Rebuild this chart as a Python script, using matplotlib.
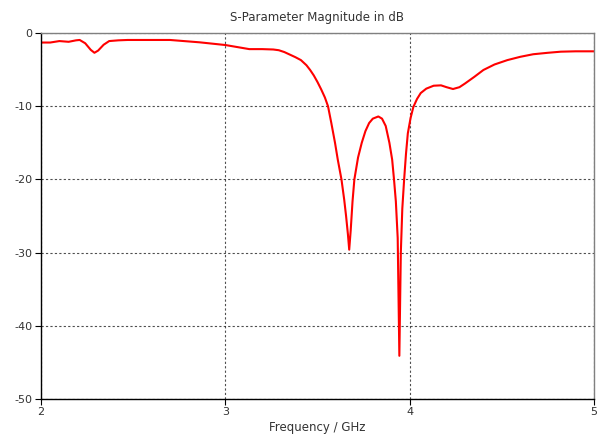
import matplotlib
matplotlib.use("Agg")
import matplotlib.pyplot as plt

# S11 magnitude over frequency
freq_ghz = [2.00, 2.05, 2.10, 2.15, 2.19, 2.21, 2.24, 2.27, 2.29, 2.31,
            2.34, 2.37, 2.42, 2.47, 2.60, 2.70, 2.86, 3.00, 3.13, 3.20,
            3.26, 3.29, 3.32, 3.35, 3.38, 3.41, 3.44, 3.46, 3.48, 3.50,
            3.52, 3.54, 3.557, 3.575, 3.595, 3.61, 3.63, 3.645, 3.655, 3.665,
            3.672, 3.68, 3.69, 3.70, 3.72, 3.74, 3.76, 3.78, 3.80, 3.83,
            3.85, 3.87, 3.89, 3.905, 3.915, 3.925, 3.935, 3.944, 3.952, 3.96,
            3.97, 3.98, 3.99, 4.005, 4.02, 4.04, 4.06, 4.09, 4.13, 4.17,
            4.20, 4.235, 4.27, 4.30, 4.35, 4.40, 4.46, 4.53, 4.60, 4.67,
            4.75, 4.82, 4.90, 5.00]
s11_db = [-1.3, -1.3, -1.1, -1.2, -1.0, -0.95, -1.4, -2.3, -2.7, -2.4,
          -1.6, -1.1, -1.0, -0.95, -0.95, -0.95, -1.27, -1.64, -2.2, -2.2,
          -2.25, -2.35, -2.6, -2.95, -3.3, -3.7, -4.4, -5.05, -5.8, -6.7,
          -7.7, -8.8, -10.0, -12.3, -15.0, -17.3, -20.0, -22.8, -25.0, -27.5,
          -29.6, -27.0, -23.0, -20.0, -17.0, -15.0, -13.4, -12.3, -11.7, -11.4,
          -11.7, -12.7, -15.0, -17.3, -20.0, -23.0, -28.0, -44.1, -30.0, -24.0,
          -20.0, -16.5, -13.7, -11.6, -10.1, -9.0, -8.2, -7.6, -7.2, -7.15,
          -7.4, -7.65, -7.4, -6.9, -6.0, -5.05, -4.3, -3.7, -3.25, -2.9,
          -2.7, -2.55, -2.5, -2.5]

x_ticks = [2, 3, 4, 5]
y_ticks = [0, -10, -20, -30, -40, -50]

plt.rcParams['font.family'] = ['DejaVu Sans']
plt.rcParams['font.size'] = 8

fig = plt.figure(figsize=(5.99, 4.42), dpi=100)
ax = fig.add_axes([0.0684, 0.0973, 0.9233, 0.828])

ax.plot(freq_ghz, s11_db, color='red', linewidth=1.5, solid_joinstyle='round')

ax.set_xlim(2, 5)
ax.set_ylim(-50, 0)
ax.set_xticks(x_ticks)
ax.set_yticks(y_ticks)
ax.set_xticklabels([str(v) for v in x_ticks])
ax.set_yticklabels([str(v) for v in y_ticks])

ax.grid(True, color='#222222', linestyle=(0, (2, 2)), linewidth=0.8, alpha=0.8)
ax.tick_params(direction='out', length=4, width=0.8, colors='black',
               labelcolor='#333333', pad=2)

for side in ['left', 'bottom']:
    ax.spines[side].set_color('black')
    ax.spines[side].set_linewidth(1)
for side in ['top', 'right']:
    ax.spines[side].set_color('#808080')
    ax.spines[side].set_linewidth(1)

ax.set_title('S-Parameter Magnitude in dB', color='#333333', fontsize=8.5, pad=9)
ax.set_xlabel('Frequency / GHz', color='#333333', fontsize=8.5, labelpad=3)

fig.savefig('out.png', dpi=100)
